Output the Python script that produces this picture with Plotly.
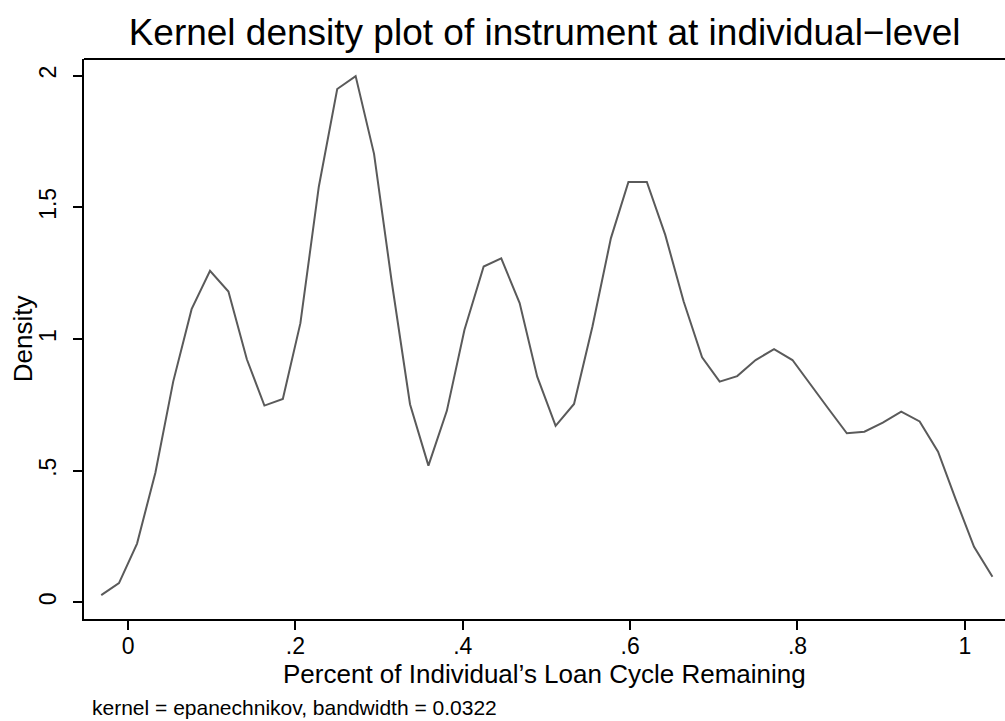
import plotly.graph_objects as go

# Kernel density estimate evaluated on an even grid (epanechnikov, bw = 0.0322)
grid_x = [-0.032, -0.0108, 0.0108, 0.0327, 0.054, 0.076, 0.098, 0.120, 0.142, 0.163,
          0.185, 0.206, 0.228, 0.250, 0.272, 0.294, 0.315, 0.337, 0.359, 0.381,
          0.402, 0.425, 0.446, 0.468, 0.489, 0.511, 0.533, 0.555, 0.577, 0.598,
          0.620, 0.642, 0.664, 0.686, 0.707, 0.728, 0.750, 0.772, 0.794, 0.815,
          0.837, 0.859, 0.880, 0.902, 0.924, 0.946, 0.968, 0.989, 1.011, 1.033]
density = [0.027, 0.073, 0.223, 0.492, 0.838, 1.113, 1.259, 1.180, 0.923, 0.747,
           0.772, 1.060, 1.578, 1.949, 1.998, 1.703, 1.220, 0.752, 0.519, 0.727,
           1.034, 1.275, 1.306, 1.136, 0.857, 0.670, 0.753, 1.047, 1.382, 1.596,
           1.596, 1.395, 1.142, 0.930, 0.838, 0.859, 0.920, 0.961, 0.920, 0.828,
           0.735, 0.642, 0.648, 0.682, 0.724, 0.687, 0.572, 0.392, 0.211, 0.097]

x_tickvals = [0, 0.2, 0.4, 0.6, 0.8, 1]
x_ticktext = ["0", ".2", ".4", ".6", ".8", "1"]
y_tickvals = [0, 0.5, 1, 1.5, 2]
y_ticktext = ["0", ".5", "1", "1.5", "2"]

FONT = "Liberation Sans, Arial, Helvetica, sans-serif"
BLACK = "black"

fig = go.Figure()
fig.add_trace(go.Scatter(
    x=grid_x, y=density, mode="lines",
    line=dict(color="#5a5a5a", width=2),
    showlegend=False, hoverinfo="skip",
))

fig.update_layout(
    width=1005, height=721,
    margin=dict(l=84, r=0, t=59, b=102),
    paper_bgcolor="white", plot_bgcolor="white",
    font=dict(family=FONT, color=BLACK),
    title=dict(
        text="Kernel density plot of instrument at individual\u2212level",
        font=dict(size=37, family=FONT, color=BLACK),
        x=0.5419, xanchor="center", y=0.955, yanchor="middle",
    ),
    xaxis=dict(
        range=[-0.0526, 1.048], tickvals=x_tickvals, ticktext=x_ticktext,
        showgrid=False, zeroline=False,
        showline=True, linecolor=BLACK, linewidth=2,
        ticks="outside", ticklen=9, tickwidth=1.5, tickcolor=BLACK,
        ticklabelstandoff=-4,
        tickfont=dict(size=23, family=FONT, color=BLACK),
    ),
    yaxis=dict(
        range=[-0.0634, 2.063], tickvals=y_tickvals, ticktext=y_ticktext,
        showgrid=False, zeroline=False,
        showline=True, linecolor=BLACK, linewidth=2,
        ticks="outside", ticklen=9, tickwidth=1.5, tickcolor=BLACK,
        tickangle=-90, ticklabelstandoff=8,
        tickfont=dict(size=23, family=FONT, color=BLACK),
    ),
)

# top border of the plot region
fig.add_shape(type="line", xref="paper", yref="paper", x0=0, x1=1, y0=1, y1=1,
              line=dict(color=BLACK, width=2))

# axis titles
fig.add_annotation(
    text="Percent of Individual\u2019s Loan Cycle Remaining",
    xref="paper", yref="paper", x=0.5, y=-0.098,
    xanchor="center", yanchor="middle", showarrow=False,
    font=dict(size=26, family=FONT, color=BLACK),
)
fig.add_annotation(
    text="Density", textangle=-90,
    xref="paper", yref="paper", x=-0.066, y=0.5,
    xanchor="center", yanchor="middle", showarrow=False,
    font=dict(size=26, family=FONT, color=BLACK),
)

fig.add_annotation(
    text="kernel = epanechnikov, bandwidth = 0.0322",
    xref="paper", yref="paper", x=0.0066, y=-0.158,
    xanchor="left", yanchor="middle", showarrow=False,
    font=dict(size=21, family=FONT, color=BLACK),
)

fig.write_html("out.html")
